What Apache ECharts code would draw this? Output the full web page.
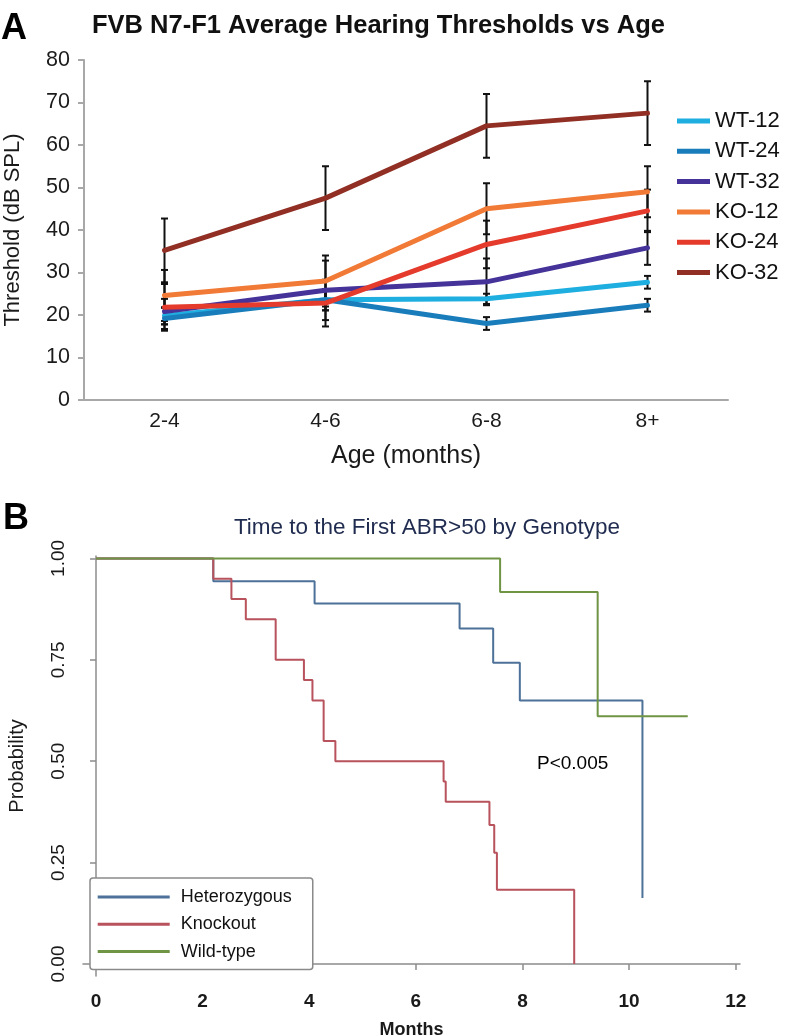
<!DOCTYPE html>
<html>
<head>
<meta charset="utf-8">
<script src="https://cdn.jsdelivr.net/npm/echarts@6/dist/echarts.min.js"></script>
<style>
html,body{margin:0;padding:0;background:#fff;}
#c{width:789px;height:1035px;}
</style>
</head>
<body>
<div id="c"></div>
<script>
// ---------- Panel A data ----------
const ageCategories = ['2-4', '4-6', '6-8', '8+'];
const seriesNamesA = ['WT-12', 'WT-24', 'WT-32', 'KO-12', 'KO-24', 'KO-32'];
const wt12 = [19.8, 23.6, 23.8, 27.7];
const wt24 = [19.2, 23.6, 18.0, 22.3];
const wt32 = [20.8, 25.8, 27.8, 35.8];
const ko12 = [24.6, 28.0, 45.0, 49.0];
const ko24 = [21.8, 22.8, 36.6, 44.5];
const ko32 = [35.2, 47.5, 64.5, 67.5];
const wt12Err = [2.0, 2.5, 1.2, 1.5];
const wt24Err = [2.5, 2.5, 1.5, 1.5];
const wt32Err = [3.0, 7.0, 5.5, 4.0];
const ko12Err = [6.0, 6.0, 6.0, 6.0];
const ko24Err = [5.5, 5.5, 5.6, 5.0];
const ko32Err = [7.5, 7.5, 7.5, 7.5];
const yTicksA = [0, 10, 20, 30, 40, 50, 60, 70, 80];

// ---------- Panel B data ----------
const seriesNamesB = ['Heterozygous', 'Knockout', 'Wild-type'];
const hetMonths = [0, 2.2, 4.1, 6.82, 7.45, 7.95, 10.25];
const hetProb   = [1, 0.944, 0.889, 0.827, 0.743, 0.650, 0.163];
const koMonths  = [0, 2.2, 2.54, 2.81, 3.37, 3.9, 4.06, 4.27, 4.49, 6.52, 6.56, 7.38, 7.47, 7.52, 8.97];
const koProb    = [1, 0.95, 0.90, 0.85, 0.75, 0.70, 0.65, 0.55, 0.50, 0.45, 0.40, 0.343, 0.274, 0.183, 0];
const wtMonths  = [0, 7.58, 9.41, 11.1];
const wtProb    = [1, 0.917, 0.611, 0.611];
const monthTicks = [0, 2, 4, 6, 8, 10, 12];
const probTicks = [0, 0.25, 0.5, 0.75, 1];

// ---------- build ----------
const FONT = '"Liberation Sans", Arial, Helvetica, sans-serif';
const colorsA = ['#1eaee0', '#1a7dbb', '#45339a', '#f07a36', '#e43b2c', '#912f24'];
const valuesA = [wt12, wt24, wt32, ko12, ko24, ko32];
const errsA = [wt12Err, wt24Err, wt32Err, ko12Err, ko24Err, ko32Err];
const colorsB = ['#4d7198', '#b8525c', '#6f9443'];

function errRender(params, api) {
  const i = api.value(0), v = api.value(1), e = api.value(2);
  const hi = api.coord([i, v + e]);
  const lo = api.coord([i, v - e]);
  const w = 3.5;
  const st = {stroke: '#111', lineWidth: 2};
  return {type: 'group', children: [
    {type: 'line', shape: {x1: hi[0], y1: hi[1], x2: lo[0], y2: lo[1]}, style: st},
    {type: 'line', shape: {x1: hi[0] - w, y1: hi[1], x2: hi[0] + w, y2: hi[1]}, style: st},
    {type: 'line', shape: {x1: lo[0] - w, y1: lo[1], x2: lo[0] + w, y2: lo[1]}, style: st}
  ]};
}

const series = [];
// error bars (under lines)
valuesA.forEach((vals, k) => {
  series.push({
    type: 'custom', xAxisIndex: 0, yAxisIndex: 0, z: 2, silent: true,
    renderItem: errRender,
    encode: {x: 0, y: 1},
    data: vals.map((v, i) => [i, v, errsA[k][i]])
  });
});
valuesA.forEach((vals, k) => {
  series.push({
    name: seriesNamesA[k], type: 'line', xAxisIndex: 0, yAxisIndex: 0, z: 3,
    data: vals, symbol: 'none', smooth: false,
    lineStyle: {color: colorsA[k], width: 5, join: 'round', cap: 'round'},
    itemStyle: {color: colorsA[k]}
  });
});
const kmData = [
  hetMonths.map((m, i) => [m, hetProb[i]]),
  koMonths.map((m, i) => [m, koProb[i]]),
  wtMonths.map((m, i) => [m, wtProb[i]])
];
kmData.forEach((d, k) => {
  series.push({
    name: seriesNamesB[k], type: 'line', xAxisIndex: 1, yAxisIndex: 1, z: 3 + k,
    data: d, step: 'end', symbol: 'none',
    lineStyle: {color: colorsB[k], width: 2},
    itemStyle: {color: colorsB[k]}
  });
});

const option = {
  animation: false,
  backgroundColor: '#fff',
  textStyle: {fontFamily: FONT},
  title: [
    {text: 'FVB N7-F1 Average Hearing Thresholds vs Age', left: 92, top: 13, padding: 0,
     textStyle: {fontFamily: FONT, fontSize: 25.5, fontWeight: 'bold', color: '#111'}},
    {text: 'Time to the First ABR>50 by Genotype', left: 427, textAlign: 'center', top: 516, padding: 0,
     textStyle: {fontFamily: FONT, fontSize: 22.5, fontWeight: 'normal', color: '#1f2b4f'}}
  ],
  legend: [
    {data: seriesNamesA, orient: 'vertical', left: 677, top: 110, padding: 0,
     icon: 'rect', itemWidth: 33, itemHeight: 5, itemGap: 8.3,
     textStyle: {fontFamily: FONT, fontSize: 22, color: '#111', lineHeight: 22}},
    {data: seriesNamesB, orient: 'vertical', left: 90, top: 878, padding: [9, 21, 8, 7.7],
     icon: 'rect', itemWidth: 72, itemHeight: 3, itemGap: 7.3,
     borderColor: '#8a8a8a', borderWidth: 1.5, borderRadius: 3, backgroundColor: '#fff',
     textStyle: {fontFamily: FONT, fontSize: 18, color: '#111', lineHeight: 20, padding: [0, 0, 0, 6]}}
  ],
  grid: [
    {left: 84, width: 644, top: 60, height: 340, outerBoundsMode: 'none', containLabel: false},
    {left: 83, width: 657, top: 556, height: 420, outerBoundsMode: 'none', containLabel: false}
  ],
  xAxis: [
    {type: 'category', gridIndex: 0, data: ageCategories, boundaryGap: true,
     axisLine: {lineStyle: {color: '#a8a8a8', width: 2}},
     axisTick: {show: false},
     axisLabel: {fontFamily: FONT, fontSize: 21, color: '#1a1a1a', margin: 11},
     name: 'Age (months)', nameLocation: 'middle', nameGap: 44,
     nameTextStyle: {fontFamily: FONT, fontSize: 25, color: '#1a1a1a'}},
    {type: 'value', gridIndex: 1, min: -0.244, max: 12.08,
     splitLine: {show: false},
     axisLine: {lineStyle: {color: '#8c8c8c', width: 1.5}},
     axisTick: {show: true, length: 6, customValues: monthTicks, lineStyle: {color: '#8c8c8c', width: 1.5}},
     axisLabel: {customValues: monthTicks, fontFamily: FONT, fontSize: 19, fontWeight: 'bold', color: '#1a1a1a', margin: 16},
     name: 'Months', nameLocation: 'middle', nameGap: 45,
     nameTextStyle: {fontFamily: FONT, fontSize: 18, fontWeight: 'bold', color: '#1a1a1a'}}
  ],
  yAxis: [
    {type: 'value', gridIndex: 0, min: 0, max: 80, interval: 10,
     splitLine: {show: false},
     axisLine: {show: true, lineStyle: {color: '#a8a8a8', width: 2}},
     axisTick: {show: true, length: 6, lineStyle: {color: '#a8a8a8', width: 2}},
     axisLabel: {fontFamily: FONT, fontSize: 21.5, color: '#1a1a1a', margin: 14},
     name: 'Threshold (dB SPL)', nameLocation: 'middle', nameGap: 60,
     nameTextStyle: {fontFamily: FONT, fontSize: 22, color: '#1a1a1a'}},
    {type: 'value', gridIndex: 1, min: -0.0296, max: 1.006,
     splitLine: {show: false},
     axisLine: {show: true, lineStyle: {color: '#8c8c8c', width: 1.5}},
     axisTick: {show: true, length: 6, customValues: probTicks, lineStyle: {color: '#8c8c8c', width: 1.5}},
     axisLabel: {customValues: probTicks, rotate: 90, fontFamily: FONT, fontSize: 19, color: '#1a1a1a', margin: 15,
       formatter: v => v.toFixed(2)},
     name: 'Probability', nameLocation: 'middle', nameGap: 56,
     nameTextStyle: {fontFamily: FONT, fontSize: 20, color: '#1a1a1a'}}
  ],
  graphic: [
    {type: 'text', left: 1, top: 11, style: {text: 'A', font: 'bold 36px ' + FONT, fill: '#000'}},
    {type: 'text', left: 3, top: 501, style: {text: 'B', font: 'bold 36px ' + FONT, fill: '#000'}},
    {type: 'text', left: 537, top: 754, style: {text: 'P<0.005', font: '19px ' + FONT, fill: '#000'}}
  ],
  series: series
};

const chart = echarts.init(document.getElementById('c'), null, {renderer: 'canvas'});
chart.setOption(option);
</script>
</body>
</html>
